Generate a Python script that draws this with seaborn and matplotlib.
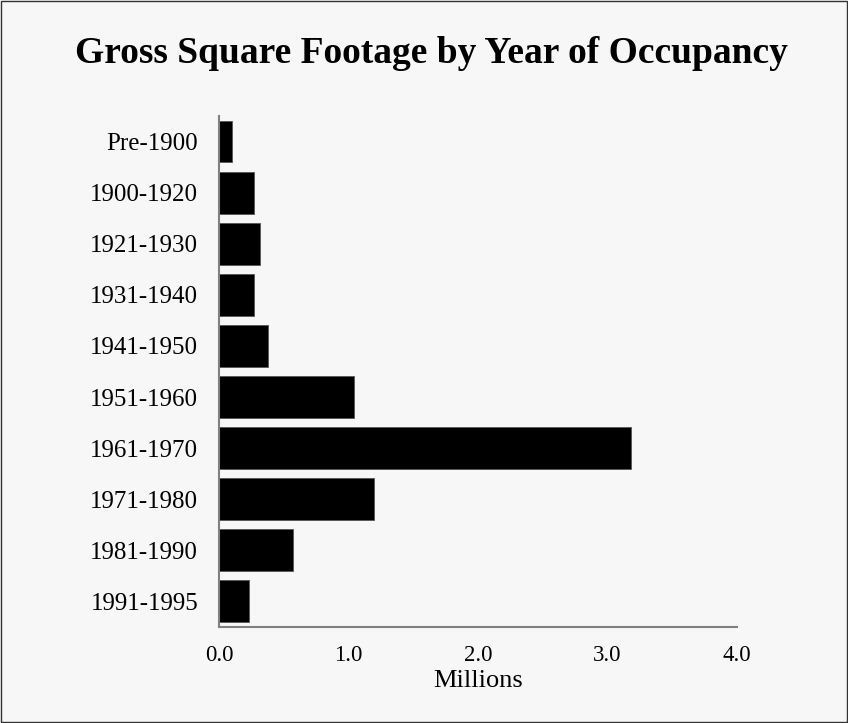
import matplotlib
matplotlib.use("Agg")
import matplotlib.pyplot as plt
import seaborn as sns
import pandas as pd

# data (millions of square feet)
periods = ["Pre-1900", "1900-1920", "1921-1930", "1931-1940", "1941-1950",
           "1951-1960", "1961-1970", "1971-1980", "1981-1990", "1991-1995"]
sq_feet = [0.10, 0.27, 0.32, 0.27, 0.38, 1.04, 3.18, 1.20, 0.57, 0.23]
x_ticks = [0.0, 1.0, 2.0, 3.0, 4.0]

df = pd.DataFrame({"period": periods, "millions": sq_feet})

sns.set_theme(style="white")
plt.rcParams["font.family"] = ["Liberation Serif", "DejaVu Serif"]
plt.rcParams.update({"text.color": "black", "axes.labelcolor": "black",
                     "xtick.color": "black", "ytick.color": "black"})

bg = "#f7f7f7"
fig = plt.figure(figsize=(8.48, 7.23), dpi=100, facecolor=bg)
ax = fig.add_axes([0.2583, 0.1328, 0.6108, 0.7068], facecolor=bg)

sns.barplot(data=df, x="millions", y="period", order=periods, color="black",
            saturation=1, width=0.82, edgecolor="#555555", linewidth=0.6, ax=ax)

ax.set_xlim(0, 4.0)
ax.set_ylim(len(periods) - 0.5, -0.5)
ax.set_xticks(x_ticks)
ax.set_xticklabels([f"{t:.1f}" for t in x_ticks], fontsize=16.5)
ax.tick_params(axis="y", labelsize=18, length=0, pad=15)
ax.tick_params(axis="x", length=0, pad=13)
ax.set_ylabel("")
ax.set_xlabel("Millions", fontsize=19, labelpad=3)

for side in ["top", "right"]:
    ax.spines[side].set_visible(False)
for side in ["left", "bottom"]:
    ax.spines[side].set_color("#808080")
    ax.spines[side].set_linewidth(1.5)

fig.suptitle("Gross Square Footage by Year of Occupancy", fontsize=27,
             fontweight="bold", x=0.509, y=0.95)

# thin frame around the whole figure
fig.patches.append(plt.Rectangle((0.0006, 0.0007), 0.9988, 0.9986, transform=fig.transFigure,
                                 fill=False, edgecolor="#333333", linewidth=1.0))

fig.savefig("out.png", dpi=100, facecolor=bg)
